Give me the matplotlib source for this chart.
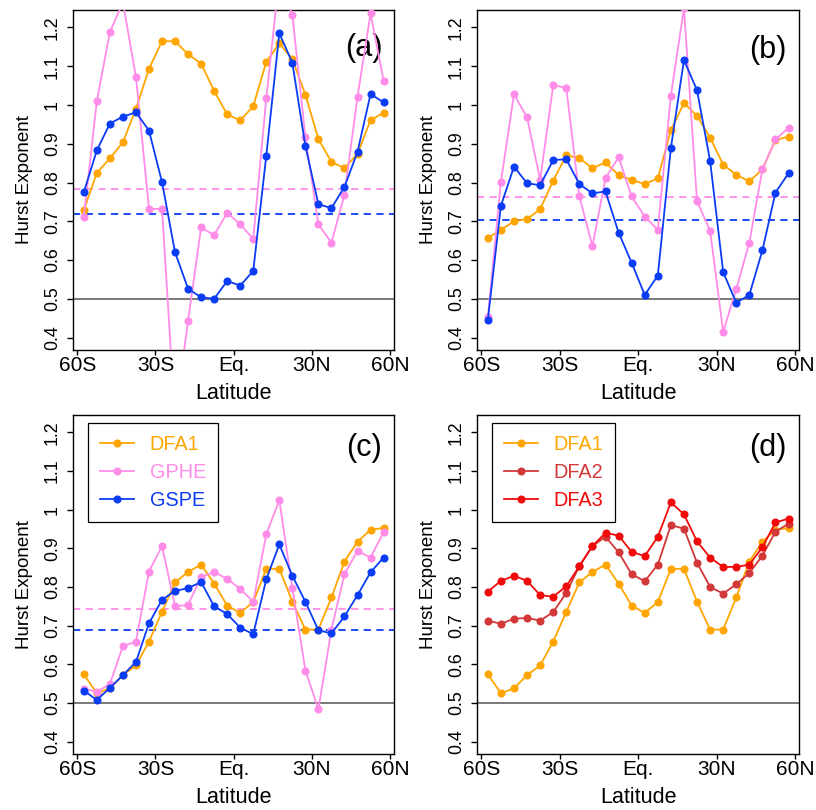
import numpy as np
import matplotlib
matplotlib.use("Agg")
import matplotlib.pyplot as plt

plt.rcParams['font.family'] = ['Liberation Sans', 'DejaVu Sans']

# latitude band centres
lat = np.arange(-57.5, 60, 5)

xticks = [-60, -30, 0, 30, 60]
xticklabels = ['60S', '30S', 'Eq.', '30N', '60N']
yticks = [0.4, 0.5, 0.6, 0.7, 0.8, 0.9, 1.0, 1.1, 1.2]
yticklabels = ['0.4', '0.5', '0.6', '0.7', '0.8', '0.9', '1', '1.1', '1.2']

# (a)
a_dfa1 = [0.729, 0.825, 0.862, 0.904, 0.990, 1.093, 1.165, 1.164, 1.131, 1.107, 1.036, 0.976,
          0.960, 0.997, 1.111, 1.159, 1.118, 1.027, 0.912, 0.853, 0.837, 0.874, 0.961, 0.980]
a_gphe = [0.712, 1.010, 1.188, 1.265, 1.072, 0.732, 0.732, 0.190, 0.444, 0.684, 0.664, 0.722,
          0.692, 0.655, 1.017, 1.330, 1.232, 0.918, 0.692, 0.645, 0.769, 1.021, 1.236, 1.063]
a_gspe = [0.775, 0.883, 0.952, 0.970, 0.981, 0.934, 0.801, 0.620, 0.526, 0.504, 0.500, 0.546,
          0.534, 0.572, 0.869, 1.185, 1.109, 0.894, 0.744, 0.734, 0.789, 0.879, 1.028, 1.007]
a_mean_gphe, a_mean_gspe = 0.782, 0.720

# (b)
b_dfa1 = [0.657, 0.678, 0.700, 0.706, 0.731, 0.805, 0.870, 0.863, 0.837, 0.852, 0.819, 0.807,
          0.796, 0.811, 0.935, 1.005, 0.972, 0.916, 0.846, 0.820, 0.803, 0.834, 0.910, 0.918]
b_gphe = [0.452, 0.802, 1.028, 0.968, 0.807, 1.051, 1.044, 0.764, 0.636, 0.811, 0.865, 0.764,
          0.712, 0.678, 1.024, 1.250, 0.752, 0.676, 0.415, 0.525, 0.645, 0.834, 0.911, 0.941]
b_gspe = [0.446, 0.740, 0.841, 0.798, 0.793, 0.858, 0.860, 0.796, 0.772, 0.777, 0.671, 0.593,
          0.510, 0.560, 0.889, 1.116, 1.038, 0.856, 0.569, 0.490, 0.510, 0.625, 0.774, 0.824]
b_mean_gphe, b_mean_gspe = 0.762, 0.704

# (c)
c_dfa1 = [0.574, 0.525, 0.538, 0.572, 0.597, 0.659, 0.736, 0.812, 0.839, 0.858, 0.809, 0.752,
          0.733, 0.761, 0.847, 0.847, 0.762, 0.690, 0.690, 0.773, 0.866, 0.917, 0.948, 0.953]
c_gphe = [0.537, 0.529, 0.549, 0.647, 0.659, 0.840, 0.906, 0.750, 0.754, 0.826, 0.839, 0.821,
          0.795, 0.762, 0.936, 1.025, 0.797, 0.584, 0.484, 0.690, 0.833, 0.894, 0.876, 0.942]
c_gspe = [0.532, 0.508, 0.539, 0.572, 0.606, 0.706, 0.767, 0.790, 0.797, 0.813, 0.750, 0.730,
          0.695, 0.678, 0.820, 0.910, 0.829, 0.762, 0.688, 0.680, 0.724, 0.779, 0.838, 0.876]
c_mean_gphe, c_mean_gspe = 0.742, 0.689

# (d)
d_dfa2 = [0.713, 0.705, 0.718, 0.720, 0.713, 0.735, 0.785, 0.854, 0.906, 0.930, 0.890, 0.833,
          0.815, 0.858, 0.960, 0.951, 0.863, 0.800, 0.783, 0.807, 0.836, 0.881, 0.943, 0.964]
d_dfa3 = [0.788, 0.816, 0.829, 0.816, 0.779, 0.775, 0.802, 0.854, 0.906, 0.940, 0.933, 0.891,
          0.880, 0.930, 1.019, 0.988, 0.918, 0.876, 0.852, 0.852, 0.858, 0.903, 0.967, 0.977]

orange = '#FFA500'
pink = '#FF8CE8'
blue = '#0A3CF5'
brown = '#D23838'
red = '#F00A0A'

W, H = 816, 810
fig = plt.figure(figsize=(W / 100, H / 100), dpi=100)

boxes = {'a': (73, 10, 394, 350), 'b': (477, 10, 799, 350),
         'c': (73, 415, 394, 754), 'd': (477, 415, 799, 754)}
tag_pos = {'a': (0.906, 0.887), 'b': (0.902, 0.882), 'c': (0.906, 0.904), 'd': (0.902, 0.904)}


def make_ax(key):
    x0, y0, x1, y1 = boxes[key]
    ax = fig.add_axes([x0 / W, 1 - y1 / H, (x1 - x0) / W, (y1 - y0) / H])
    ax.set_xlim(-61.65, 61.5)
    ax.set_ylim(0.368, 1.245)
    ax.set_xticks(xticks)
    ax.set_xticklabels(xticklabels)
    ax.set_yticks(yticks)
    ax.set_yticklabels(yticklabels, rotation=90, va='center')
    ax.tick_params(axis='x', direction='out', length=3.3, width=1, labelsize=15, pad=0.8)
    ax.tick_params(axis='y', direction='out', length=4.3, width=1, labelsize=12.8, pad=4.5)
    for s in ax.spines.values():
        s.set_linewidth(1)
    ax.set_xlabel('Latitude', fontsize=15.5)
    ax.xaxis.set_label_coords(0.5, -0.097)
    ax.set_ylabel('Hurst Exponent', fontsize=13.5)
    ax.yaxis.set_label_coords(-0.125, 0.5)
    ax.axhline(0.5, color='#555555', lw=1.1, zorder=1)
    tx, ty = tag_pos[key]
    ax.text(tx, ty, '(' + key + ')', transform=ax.transAxes, fontsize=22,
            ha='center', va='center')
    return ax


def series(ax, y, color, label=None):
    ax.plot(lat, y, '-o', color=color, lw=1.3, ms=4.8, label=label, zorder=3)


def legend(ax):
    leg = ax.legend(loc='upper left', bbox_to_anchor=(0.047, 0.976), fontsize=14.3,
                    labelcolor='linecolor', fancybox=False, edgecolor='black',
                    framealpha=1, handlelength=1.7, handletextpad=0.8,
                    labelspacing=0.45, borderpad=0.6, borderaxespad=0)
    leg.get_frame().set_linewidth(0.9)


for key, d1, gp, gs, mp, ms in [('a', a_dfa1, a_gphe, a_gspe, a_mean_gphe, a_mean_gspe),
                                ('b', b_dfa1, b_gphe, b_gspe, b_mean_gphe, b_mean_gspe),
                                ('c', c_dfa1, c_gphe, c_gspe, c_mean_gphe, c_mean_gspe)]:
    ax = make_ax(key)
    ax.axhline(mp, color=pink, lw=1.3, ls=(0, (4, 3)), zorder=2)
    ax.axhline(ms, color=blue, lw=1.3, ls=(0, (4, 3)), zorder=2)
    series(ax, d1, orange, 'DFA1')
    series(ax, gp, pink, 'GPHE')
    series(ax, gs, blue, 'GSPE')
    if key == 'c':
        legend(ax)

ax = make_ax('d')
series(ax, c_dfa1, orange, 'DFA1')
series(ax, d_dfa2, brown, 'DFA2')
series(ax, d_dfa3, red, 'DFA3')
legend(ax)

fig.savefig('out.png', dpi=100)
